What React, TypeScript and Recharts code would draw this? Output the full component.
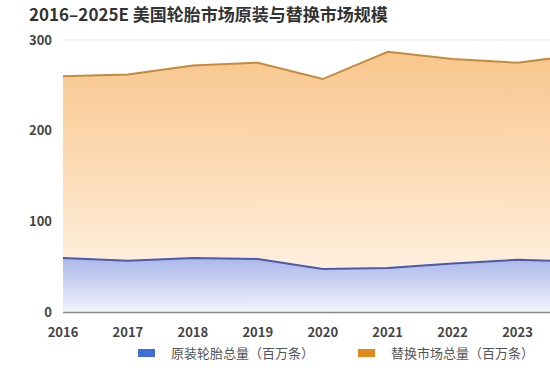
import React from 'react';
import { AreaChart, Area, XAxis, YAxis, CartesianGrid } from 'recharts';

const years = [2016, 2017, 2018, 2019, 2020, 2021, 2022, 2023, 2024, 2025];
const oeTotal = [60, 57, 60, 59, 48, 49, 54, 58, 56, 57];
const replacementTotal = [260, 262, 272, 275, 257, 287, 279, 275, 284, 288];
const xTicks = [2016, 2017, 2018, 2019, 2020, 2021, 2022, 2023];
const yTicks = [0, 100, 200, 300];

const oeName = '原装轮胎总量（百万条）';
const repName = '替换市场总量（百万条）';

const data = years.map((year, i) => ({
  year,
  oe: oeTotal[i],
  replacement: replacementTotal[i],
}));

const FONT = '"Noto Sans CJK SC", "Noto Sans", sans-serif';

function LegendBox() {
  const items = [
    { label: oeName, color: '#3f6fd6' },
    { label: repName, color: '#e3891c' },
  ];
  return (
    <div
      style={{
        position: 'absolute',
        left: 138,
        top: 343,
        display: 'flex',
        fontFamily: FONT,
        fontSize: 13,
        color: '#555',
        whiteSpace: 'nowrap',
      }}
    >
      {items.map((it, idx) => (
        <div key={it.label} style={{ display: 'flex', alignItems: 'center', marginRight: idx === 0 ? 44 : 0 }}>
          <span style={{ display: 'inline-block', width: 17, height: 8, background: it.color, marginRight: 16 }} />
          <span>{it.label}</span>
        </div>
      ))}
    </div>
  );
}

export default function App() {
  return (
    <div
      style={{
        position: 'absolute',
        left: 0,
        top: 0,
        width: 550,
        height: 378,
        overflow: 'hidden',
        background: '#fff',
        fontFamily: FONT,
      }}
    >
      <div
        style={{
          position: 'absolute',
          left: 29,
          top: 1,
          fontSize: 17,
          fontWeight: 700,
          color: '#333',
          whiteSpace: 'nowrap',
        }}
      >
        2016–2025E 美国轮胎市场原装与替换市场规模
      </div>
      <AreaChart
        width={550}
        height={378}
        data={data}
        margin={{ top: 40, right: 0, left: 0, bottom: 35.5 }}
        style={{ position: 'absolute', left: 0, top: 0 }}
      >
        <defs>
          <linearGradient id="repFill" x1="0" y1="0" x2="0" y2="1">
            <stop offset="0%" stopColor="#f8c68c" />
            <stop offset="55%" stopColor="#fde0c0" />
            <stop offset="100%" stopColor="#fff8f0" />
          </linearGradient>
          <linearGradient id="oeFill" x1="0" y1="0" x2="0" y2="1">
            <stop offset="0%" stopColor="#aab8ea" />
            <stop offset="100%" stopColor="#f3f4fc" />
          </linearGradient>
        </defs>
        <CartesianGrid vertical={false} stroke="#e8e8e8" />
        <XAxis
          dataKey="year"
          type="number"
          domain={[2016, 2023.5]}
          allowDataOverflow
          ticks={xTicks}
          axisLine={{ stroke: '#8a8a8a', strokeWidth: 1.5 }}
          tickLine={false}
          tickMargin={9}
          interval={0}
          tick={{ fill: '#444', fontSize: 13, fontWeight: 600, fontFamily: FONT }}
        />
        <YAxis
          width={63}
          domain={[0, 300]}
          ticks={yTicks}
          axisLine={false}
          tickLine={false}
          tickMargin={5}
          tick={{ fill: '#444', fontSize: 13, fontWeight: 600, fontFamily: FONT }}
        />
        <Area
          type="linear"
          dataKey="replacement"
          name={repName}
          stroke="#c38b3e"
          strokeWidth={2}
          fill="url(#repFill)"
          fillOpacity={1}
          isAnimationActive={false}
        />
        <Area
          type="linear"
          dataKey="oe"
          name={oeName}
          stroke="#4c5aa8"
          strokeWidth={2}
          fill="url(#oeFill)"
          fillOpacity={1}
          isAnimationActive={false}
        />
      </AreaChart>
      <LegendBox />
    </div>
  );
}
